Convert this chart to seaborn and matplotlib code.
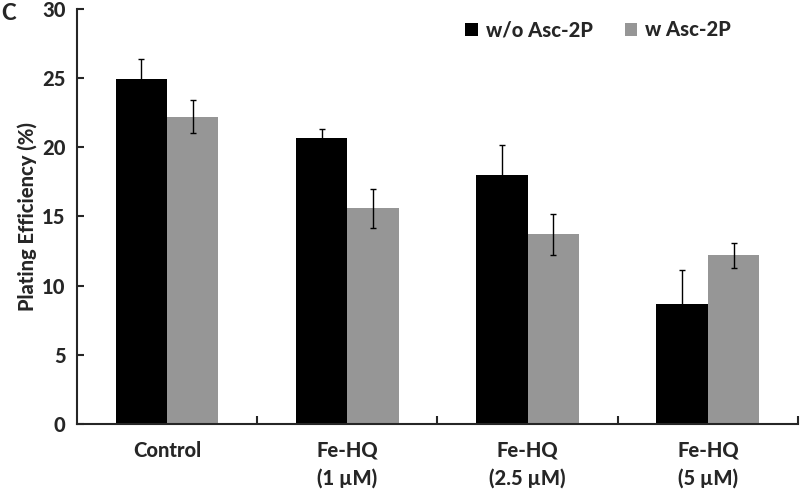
import numpy as np
import pandas as pd
import matplotlib
matplotlib.use("Agg")
import matplotlib.pyplot as plt
import seaborn as sns
from matplotlib.ticker import FixedLocator
from matplotlib.patches import Patch

# data
groups = ["Control", "Fe-HQ\n(1 µM)", "Fe-HQ\n(2.5 µM)", "Fe-HQ\n(5 µM)"]
series = ["w/o Asc-2P", "w Asc-2P"]
no_asc = [24.9, 20.7, 18.0, 8.7]
no_asc_err = [1.45, 0.65, 2.2, 2.4]
with_asc = [22.2, 15.6, 13.7, 12.2]
with_asc_err = [1.2, 1.4, 1.45, 0.9]
colors = ["#000000", "#969696"]

df = pd.DataFrame({
    "group": groups * 2,
    "treatment": [series[0]] * 4 + [series[1]] * 4,
    "value": no_asc + with_asc,
})
errs = [no_asc_err, with_asc_err]

sns.set_style("ticks")
plt.rcParams["font.family"] = ["Lato", "DejaVu Sans"]
wt = 900
plt.rcParams["font.weight"] = wt
fs = 14.5

fig = plt.figure(figsize=(8, 4.95), dpi=100)
ax = fig.add_axes([0.096, 0.1434, 0.9015, 0.8386])

sns.barplot(data=df, x="group", y="value", hue="treatment", order=groups,
            hue_order=series, palette=colors, width=0.57, errorbar=None,
            saturation=1, linewidth=0, ax=ax, legend=False)

# error bars on top of the bars seaborn placed
for cont, err in zip(ax.containers, errs):
    xs = [p.get_x() + p.get_width() / 2 for p in cont.patches]
    hs = [p.get_height() for p in cont.patches]
    ax.errorbar(xs, hs, yerr=err, fmt="none", ecolor="black",
                elinewidth=1, capsize=2.5, capthick=1)

ax.set_xlim(-0.5, 3.5)
ax.set_ylim(0, 30)
ax.set_yticks(range(0, 31, 5))
ax.set_xlabel("")
ax.set_ylabel("Plating Efficiency (%)", fontsize=fs, fontweight=wt, labelpad=4)

sns.despine(ax=ax)
for s in ["left", "bottom"]:
    ax.spines[s].set_linewidth(1.5)

ax.tick_params(axis="y", direction="in", length=5, width=1.5, labelsize=fs, pad=8)
ax.tick_params(axis="x", which="major", length=0, labelsize=fs, pad=12)
ax.xaxis.set_minor_locator(FixedLocator([0.5, 1.5, 2.5, 3.5]))
ax.tick_params(axis="x", which="minor", direction="in", length=6, width=1.5)
for lab in ax.get_xticklabels() + ax.get_yticklabels():
    lab.set_fontweight(wt)
for lab in ax.get_xticklabels():
    lab.set_linespacing(1.5)

handles = [Patch(facecolor=c, edgecolor="none") for c in colors]
fig.legend(handles, series, loc="center", bbox_to_anchor=(598 / 800, 1 - 30 / 495),
           ncol=2, frameon=False, handlelength=0.6, handleheight=0.6,
           handletextpad=0.4, columnspacing=1.6, prop={"weight": wt, "size": fs})

fig.text(0.002, 1 - 14 / 495, "C", fontsize=16, fontweight=wt, va="center", ha="left")

fig.savefig("out.png", dpi=100)
